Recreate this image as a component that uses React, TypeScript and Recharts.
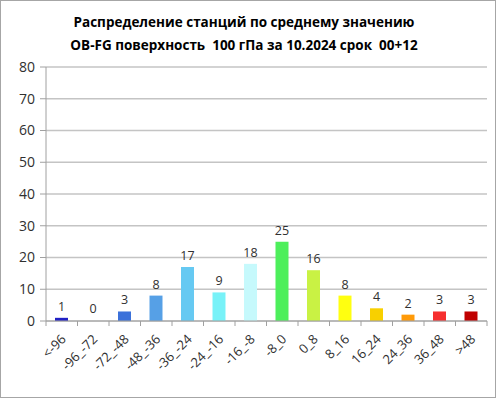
import React from 'react';
import { BarChart, Bar, XAxis, YAxis, CartesianGrid, LabelList, Cell } from 'recharts';

const categories = ['<-96', '-96_-72', '-72_-48', '-48_-36', '-36_-24', '-24_-16', '-16_-8', '-8_0', '0_8', '8_16', '16_24', '24_36', '36_48', '>48'];
const counts = [1, 0, 3, 8, 17, 9, 18, 25, 16, 8, 4, 2, 3, 3];
const colors = ['#2121c4', '#2121c4', '#3b71da', '#56a0e6', '#66c9f2', '#78f2f8', '#c6f9fc', '#4def5b', '#c9f244', '#ffff10', '#f8d000', '#ff9a08', '#f62f2f', '#c00000'];
const yTicks = [0, 10, 20, 30, 40, 50, 60, 70, 80];
const titleLines = ['Распределение станций по среднему значению', 'OB-FG поверхность  100 гПа за 10.2024 срок  00+12'];

const data = categories.map((c, i) => ({ name: c, value: counts[i] }));

const W = 496;
const H = 399;
const M = { top: 67, right: 9, bottom: 0, left: 0 };
const Y_W = 46;
const X_H = 78;
const band = (W - M.left - M.right - Y_W) / categories.length;

const FONT = 'Open Sans, Lato, sans-serif';

const XTick = (props: any) => {
  const { x, y, payload, index } = props;
  const tx = x + 5;
  const ty = y + 11;
  return (
    <g>
      <line x1={x - band / 2} y1={y - 8} x2={x - band / 2} y2={y - 3} stroke="#a0a0a0" />
      {index === categories.length - 1 && (
        <line x1={x + band / 2} y1={y - 8} x2={x + band / 2} y2={y - 3} stroke="#a0a0a0" />
      )}
      <text
        x={tx}
        y={ty}
        textAnchor="end"
        fontSize={13}
        fill="#303030"
        fontFamily={FONT}
        transform={`rotate(-45, ${tx}, ${ty})`}
      >
        {payload.value}
      </text>
    </g>
  );
};

export default function App() {
  return (
    <div style={{ position: 'absolute', left: 0, top: 0, width: W, height: H }}>
      <div
        style={{
          position: 'absolute',
          left: 0,
          top: 0,
          width: W - 2,
          height: H - 3,
          border: '1px solid #a6a6a6',
        }}
      />
      <div
        style={{
          position: 'absolute',
          left: 0,
          top: 11,
          width: W - 8,
          textAlign: 'center',
          fontFamily: FONT,
          fontWeight: 'bold',
          fontSize: 13.5,
          lineHeight: '23px',
          color: '#000',
        }}
      >
        {titleLines.map((t, i) => (
          <div key={i} style={{ whiteSpace: 'pre' }}>{t}</div>
        ))}
      </div>
      <div style={{ position: 'absolute', left: 0, top: 0 }}>
        <BarChart width={W} height={H} data={data} margin={M} barCategoryGap={0}>
          <CartesianGrid vertical={false} stroke="#c4c4c4" strokeWidth={1.5} />
          <XAxis
            dataKey="name"
            height={X_H}
            interval={0}
            tickLine={false}
            axisLine={{ stroke: '#a0a0a0' }}
            tick={<XTick />}
          />
          <YAxis
            width={Y_W}
            domain={[0, 80]}
            ticks={yTicks}
            interval={0}
            tickSize={6}
            tickMargin={5}
            axisLine={{ stroke: '#a0a0a0' }}
            tickLine={{ stroke: '#a0a0a0' }}
            tick={{ fontSize: 14, fill: '#303030', fontFamily: FONT }}
          />
          <Bar
            dataKey="value"
            barSize={13}
            isAnimationActive={false}
            minPointSize={(v: any) => (v === 0 ? 1 : 0)}
          >
            {data.map((d, i) => (
              <Cell key={i} fill={d.value === 0 ? 'none' : colors[i]} />
            ))}
            <LabelList
              dataKey="value"
              position="top"
              offset={7}
              style={{ fontSize: 12.5, fill: '#303030', fontFamily: FONT }}
            />
          </Bar>
        </BarChart>
      </div>
    </div>
  );
}
